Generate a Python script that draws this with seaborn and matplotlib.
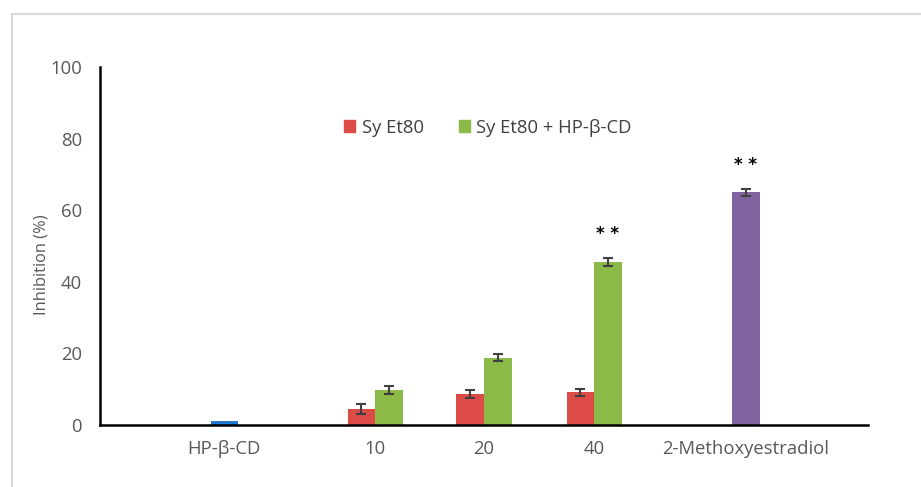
import pandas as pd
import seaborn as sns
import matplotlib.pyplot as plt
from matplotlib.patches import Patch
from matplotlib.lines import Line2D

# Data
categories = ["HP-β-CD", "10", "20", "40", "2-Methoxyestradiol"]
hp_cd = [1.0]
hp_cd_err = [0.0]
sy_et80 = [4.5, 8.7, 9.1]
sy_et80_err = [1.3, 1.1, 1.0]
sy_et80_cd = [9.7, 18.8, 45.6]
sy_et80_cd_err = [1.1, 1.0, 1.15]
methoxy = [65.0]
methoxy_err = [1.0]
series_names = ["HP-β-CD", "Sy Et80", "Sy Et80 + HP-β-CD", "2-Methoxyestradiol"]
stars = {3: "* *", 4: "* *"}  # category index -> significance mark

# layout: category centres (uneven, as in the original) and bar width
group_pos = [0.0, 1.37, 2.36, 3.36, 4.74]
bw = 0.25
colors = {"HP-β-CD": "#1F78D1", "Sy Et80": "#DD4B47",
          "Sy Et80 + HP-β-CD": "#8BBA48", "2-Methoxyestradiol": "#8064A2"}

rows = []
rows.append((group_pos[0], hp_cd[0], hp_cd_err[0], series_names[0], 0))
for i in range(3):
    rows.append((group_pos[i + 1] - bw / 2, sy_et80[i], sy_et80_err[i], series_names[1], i + 1))
    rows.append((group_pos[i + 1] + bw / 2, sy_et80_cd[i], sy_et80_cd_err[i], series_names[2], i + 1))
rows.append((group_pos[4], methoxy[0], methoxy_err[0], series_names[3], 4))
df = pd.DataFrame(rows, columns=["pos", "value", "err", "series", "cat"])

sns.set_style("white")
plt.rcParams['font.family'] = ['Open Sans', 'DejaVu Sans']

fig = plt.figure(figsize=(9.21, 4.87), dpi=100)
ax = fig.add_axes([100 / 921, 1 - 425 / 487, 768 / 921, 358 / 487])

sns.barplot(data=df, x="pos", y="value", hue="series", palette=colors,
            native_scale=True, dodge=False, width=1.0, errorbar=None,
            saturation=1, linewidth=0, legend=False, ax=ax)

eb = df[df["err"] > 0]
ax.errorbar(eb["pos"], eb["value"], yerr=eb["err"], fmt="none",
            ecolor="#404040", elinewidth=1.5, capsize=3.5, capthick=1.5)

# significance marks above the tallest bar of the category
for ci, mark in stars.items():
    sub = df[df["cat"] == ci]
    top = sub.loc[sub["value"].idxmax()]
    ax.text(top["pos"], top["value"] + top["err"] + 6.6, mark, ha="center",
            va="center", fontsize=12, fontweight="bold", color="black",
            family="DejaVu Sans")

ax.set_xlim(-1.13, 5.85)
ax.set_ylim(0, 100)
ax.set_yticks([0, 20, 40, 60, 80, 100])
ax.set_xticks(group_pos)
ax.set_xticklabels(categories)
ax.tick_params(axis="both", length=0, labelsize=13.3, colors="#595959")
ax.tick_params(axis="y", pad=13)
ax.tick_params(axis="x", pad=11)
ax.set_xlabel("")
ax.set_ylabel("Inhibition (%)", fontsize=11.8, color="#595959")
ax.yaxis.set_label_coords(-0.066, 0.447)

for s in ["top", "right"]:
    ax.spines[s].set_visible(False)
for s in ["left", "bottom"]:
    ax.spines[s].set_color("black")
    ax.spines[s].set_linewidth(1.8)

handles = [Patch(color=colors["Sy Et80"], label="Sy Et80"),
           Patch(color=colors["Sy Et80 + HP-β-CD"], label="Sy Et80 + HP-β-CD")]
leg = ax.legend(handles=handles, ncol=2, frameon=False, loc="center",
                bbox_to_anchor=(0.505, 0.83), handlelength=0.6, handleheight=0.6,
                handletextpad=0.35, columnspacing=1.9, fontsize=13.3)
for t in leg.get_texts():
    t.set_color("#404040")

# light outer frame (cropped on the right and bottom)
fig.add_artist(Line2D([12 / 921, 12 / 921], [0, 1 - 14 / 487], color="#d9d9d9", lw=1.5))
fig.add_artist(Line2D([12 / 921, 1], [1 - 14 / 487, 1 - 14 / 487], color="#d9d9d9", lw=1.5))

fig.savefig("out.png", dpi=100)
